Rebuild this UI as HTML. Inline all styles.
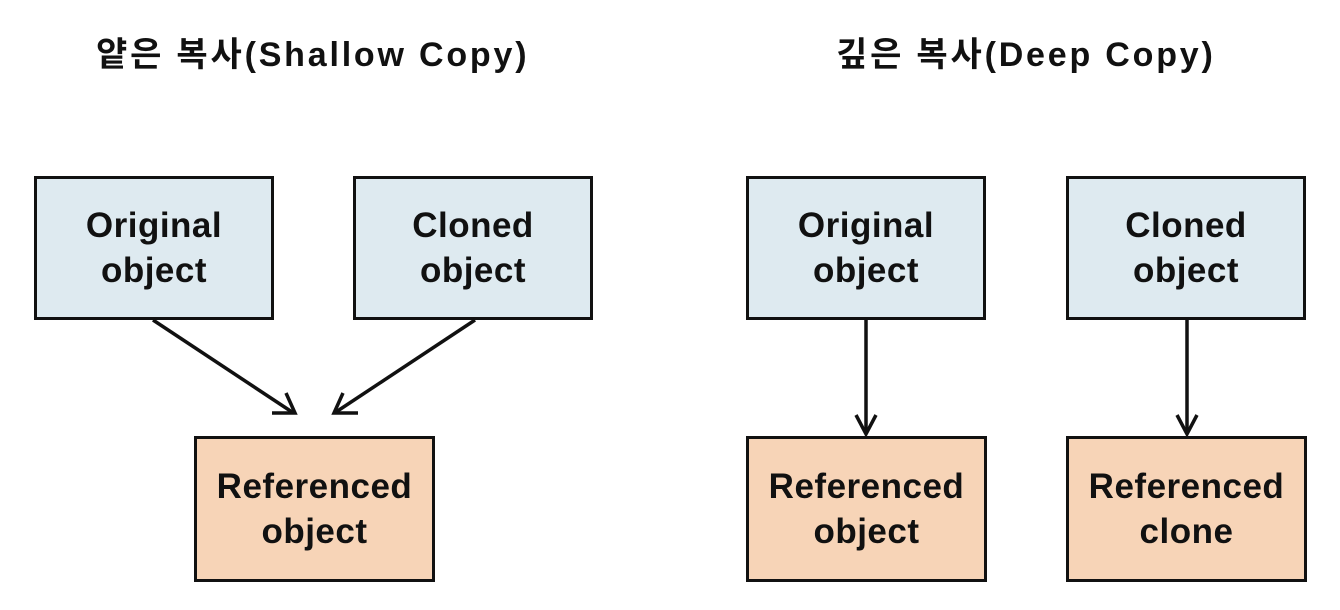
<!DOCTYPE html>
<html><head><meta charset="utf-8"><style>
body{margin:0;width:1340px;height:610px;background:#fff;position:relative;overflow:hidden;font-family:"Liberation Sans","Noto Sans CJK KR",sans-serif}
.t{position:absolute;top:27px;font-size:34px;letter-spacing:2.8px;font-weight:bold;color:#111;white-space:nowrap}
.b{position:absolute;box-sizing:border-box;border:3px solid #111;display:flex;align-items:center;justify-content:center;text-align:center;font-size:35px;letter-spacing:0.5px;font-weight:bold;line-height:45px;color:#111}
.bl{background:#deeaf0;top:176px;height:144px;width:240px}
.or{background:#f7d4b7;top:436px;height:146px;width:241px}
svg{position:absolute;left:0;top:0}
</style></head><body>
<div class="t" style="left:96px">얕은 복사(Shallow Copy)</div>
<div class="t" style="left:836px">깊은 복사(Deep Copy)</div>
<div class="b bl" style="left:34px">Original<br>object</div>
<div class="b bl" style="left:353px">Cloned<br>object</div>
<div class="b or" style="left:194px">Referenced<br>object</div>
<div class="b bl" style="left:746px">Original<br>object</div>
<div class="b bl" style="left:1066px">Cloned<br>object</div>
<div class="b or" style="left:746px">Referenced<br>object</div>
<div class="b or" style="left:1066px">Referenced<br>clone</div>
<svg width="1340" height="610" fill="none" stroke="#111" stroke-width="3.5">
<line x1="153" y1="320" x2="292" y2="412"/>
<polyline points="272,413 295,413 286,393"/>
<line x1="475" y1="320" x2="336" y2="412"/>
<polyline points="358,413 334,413 343,393"/>
<line x1="866" y1="320" x2="866" y2="433"/>
<polyline points="856,415 866,434 876,415"/>
<line x1="1187" y1="320" x2="1187" y2="433"/>
<polyline points="1177,415 1187,434 1197,415"/>
</svg>
</body></html>
